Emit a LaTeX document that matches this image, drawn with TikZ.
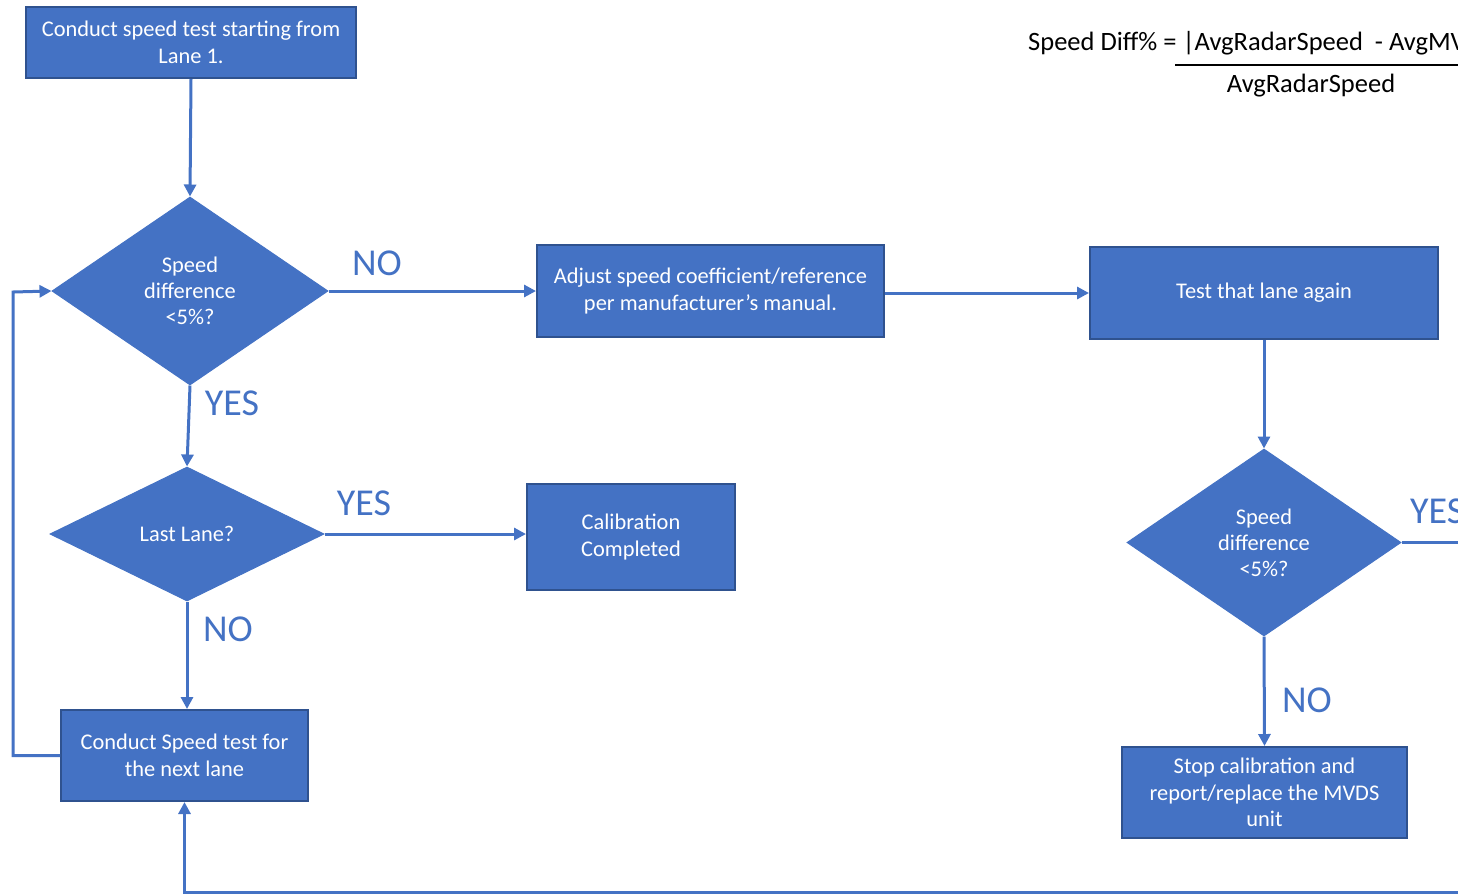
\documentclass[tikz,border=0pt]{standalone}
\usepackage{fontspec}
\setmainfont{Carlito}
\usetikzlibrary{shapes.geometric,arrows.meta}
\definecolor{boxfill}{RGB}{68,114,196}
\definecolor{boxedge}{RGB}{47,82,143}
\definecolor{linec}{RGB}{68,114,196}
\tikzset{
  procbox/.style={rectangle, fill=boxfill, draw=boxedge, line width=2pt, text=white, align=center, inner sep=0pt, font=\fontsize{22.4}{26.5}\selectfont},
  decbox/.style={diamond, fill=boxfill, draw=boxfill, line width=1pt, text=white, align=center, inner sep=0pt, font=\fontsize{22.4}{26}\selectfont},
  conn/.style={draw=linec, line width=3pt, -{Triangle[length=12pt,width=12pt]}},
  plainconn/.style={draw=linec, line width=3pt},
  lbl/.style={text=linec, font=\fontsize{38}{40}\selectfont, inner sep=0pt},
}
\begin{document}
\begin{tikzpicture}[x=1pt,y=-1pt]
\useasboundingbox (0,0) rectangle (1458,895);
\clip (0,0) rectangle (1458,895);
% nodes
\node[procbox, minimum width=330pt, minimum height=71pt] (start) at (191,42.5) {Conduct speed test starting from\\Lane 1.};
\node[decbox, minimum width=276pt, minimum height=188pt] (d1) at (190,291) {Speed\\difference\\<5\%?};
\node[procbox, minimum width=347pt, minimum height=92pt] (adj) at (710.5,291) {Adjust speed coefficient/reference\\per manufacturer’s manual.};
\node[procbox, minimum width=348pt, minimum height=92pt] (again) at (1264,293) {Test that lane again};
\node[decbox, minimum width=274pt, minimum height=134pt] (d2) at (187,534) {Last Lane?};
\node[procbox, minimum width=208pt, minimum height=106pt] (done) at (631,537) {Calibration\\Completed};
\node[decbox, minimum width=274pt, minimum height=187pt] (d3) at (1264,542.5) {Speed\\difference\\<5\%?};
\node[procbox, minimum width=247pt, minimum height=91pt] (next) at (184.5,755.5) {Conduct Speed test for\\the next lane};
\node[procbox, minimum width=285pt, minimum height=91pt] (stop) at (1264.5,792.5) {Stop calibration and\\report/replace the MVDS\\unit};
% formula
\node[anchor=base west, inner sep=0pt, font=\fontsize{26.5}{30}\selectfont] (num) at (1028,50) {Speed Diff\% = |AvgRadarSpeed \ - AvgMV};
\node[anchor=base, inner sep=0pt, font=\fontsize{26.5}{30}\selectfont] (den) at (1311,92) {AvgRadarSpeed};
\coordinate (fracL) at (1175,65);
\coordinate (fracR) at (1470,65);
\draw[line width=2pt] (fracL) -- (fracR);
% coordinates for free ends
\coordinate (loopL) at (13,292);
\coordinate (yesR) at (1470,542.5);
\coordinate (bottomR) at (1470,892);
% connectors
\draw[conn] (start.south) -- (d1.north);
\draw[conn] (d1.east) -- (adj.west);
\draw[conn] (adj.east |- again.west) -- (again.west);
\draw[conn] (again.south) -- (d3.north);
\draw[plainconn] (d3.east) -- (yesR);
\draw[conn] (d3.south) -- (stop.north);
\draw[conn] (d1.south) -- (d2.north);
\draw[conn] (d2.east) -- (done.west |- d2.east);
\draw[conn] (d2.south) -- (d2.south |- next.north);
\draw[conn] (next.west) -| (loopL) -- (d1.west);
\draw[conn] (bottomR) -| (next.south);
% labels
\node[lbl] (noA) at (377,263) {NO};
\node[lbl] (yesA) at (232,403) {YES};
\node[lbl] (yesB) at (364,503) {YES};
\node[lbl] (noB) at (228,629) {NO};
\node[lbl] (noC) at (1307,700) {NO};
\node[lbl, anchor=west] (yesC) at (1410,511) {YES};
\end{tikzpicture}
\end{document}
